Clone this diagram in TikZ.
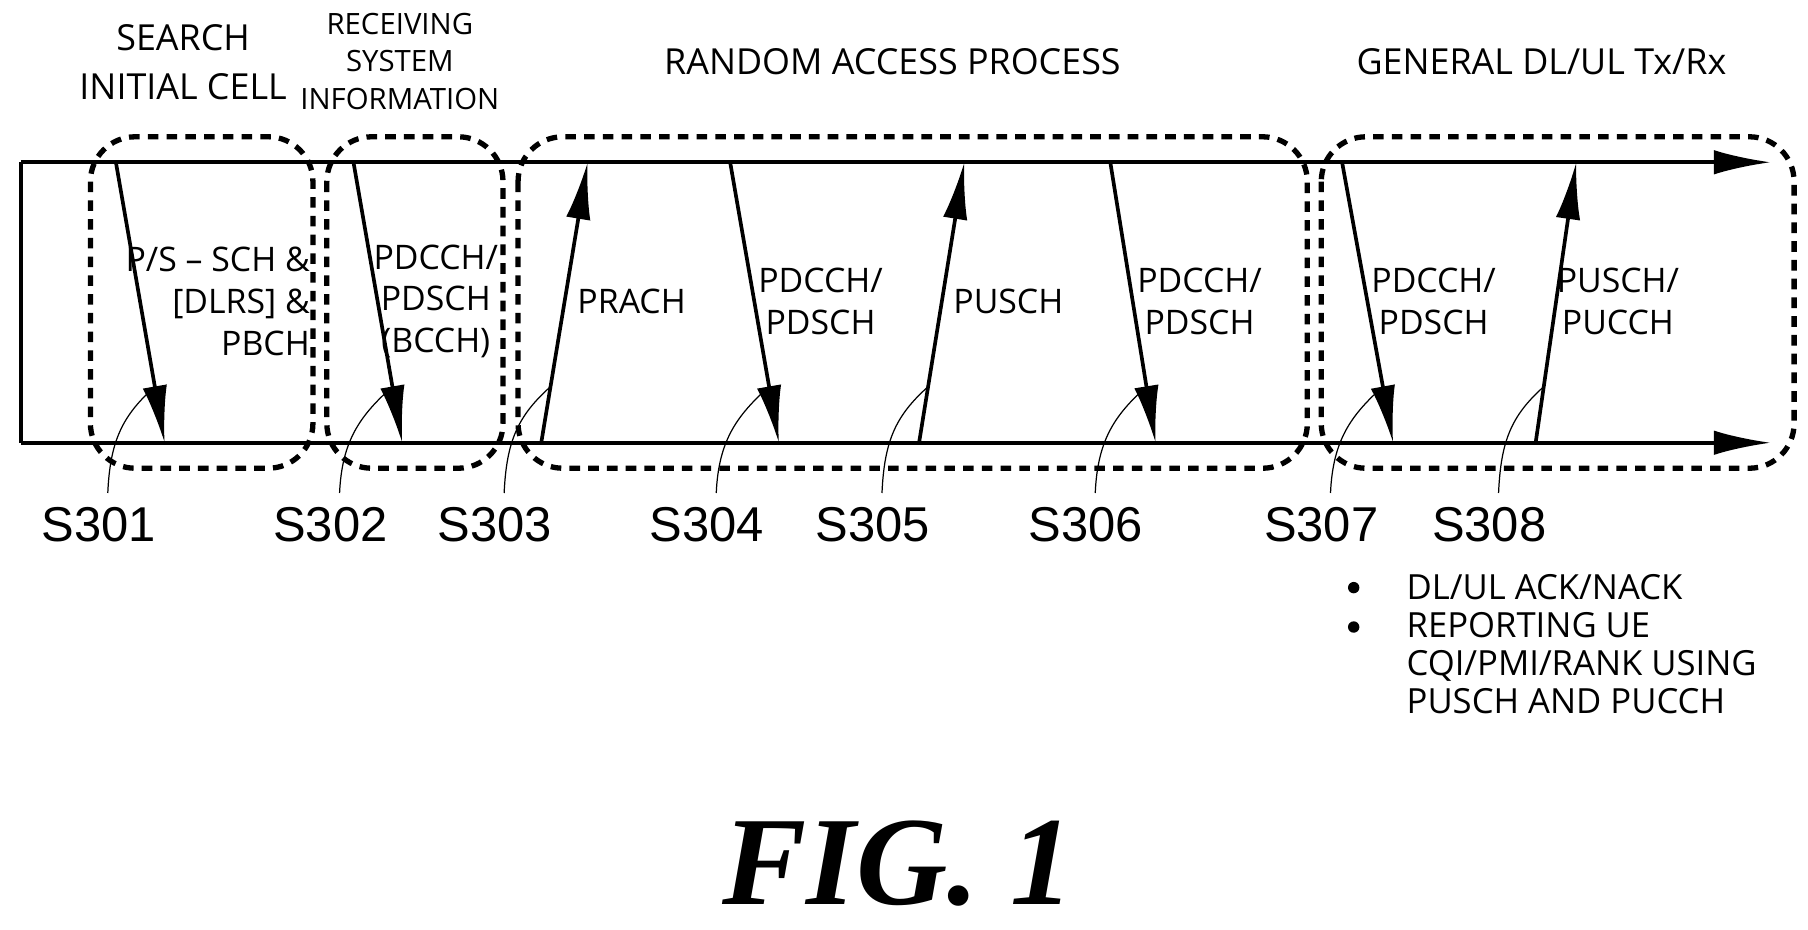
\documentclass[tikz,border=0pt]{standalone}
\usepackage{fontspec}
\setmainfont{Liberation Sans}
\newfontfamily\ttl{Open Sans}
\newfontfamily\figf{Liberation Serif}
\usetikzlibrary{arrows.meta,calc}
\begin{document}
\begin{tikzpicture}[x=0.01cm,y=-0.01cm,
 ln/.style={line width=0.9pt},
 arr/.style={line width=0.9pt,-{Latex[length=14pt,width=6pt]}},
 grp/.style={line width=1.3pt,dash pattern=on 2.6pt off 2pt,rounded corners=11pt},
 lab/.style={font=\ttl\fontsize{8.3}{10.2}\selectfont,align=center,inner sep=0},
 ttlst/.style={align=center,inner sep=0},
 sl/.style={font=\fontsize{12}{14}\selectfont,inner sep=0},
 ld/.style={line width=0.3pt}]
\useasboundingbox (0,0) rectangle (1560,802);
% timeline box
\coordinate (tl) at (18,140); \coordinate (bl) at (18,382);
\coordinate (tr) at (1528,140); \coordinate (br) at (1528,382);
\draw[ln] (tl) -- (bl);
\draw[arr] (tl) -- (tr);
\draw[arr] (bl) -- (br);
% group boxes
\draw[grp] (78,118) rectangle (270,404);
\draw[grp] (282,118) rectangle (434,404);
\draw[grp] (447,118) rectangle (1128,404);
\draw[grp] (1140,118) rectangle (1548,404);
% arrows
\foreach \n/\a/\b/\ya/\yb in {1/100/142/140/382,2/305/347/140/382,3/467/507/382/140,4/630/672/140/382,5/793/832/382/140,6/958/997/140/382,7/1158/1202/140/382,8/1325/1360/382/140}{
  \coordinate (a\n) at (\a,\ya); \coordinate (b\n) at (\b,\yb);
  \draw[arr] (a\n) -- (b\n);
}
% titles
\node[ttlst,font=\ttl\fontsize{8.8}{12}\selectfont] (t1) at (158,54) {SEARCH\\INITIAL CELL};
\node[ttlst,font=\ttl\fontsize{7.2}{9.2}\selectfont] (t2) at (345,53) {RECEIVING\\SYSTEM\\INFORMATION};
\node[ttlst,font=\ttl\fontsize{8.8}{12}\selectfont] (t3) at (770,53) {RANDOM ACCESS PROCESS};
\node[ttlst,font=\ttl\fontsize{8.8}{12}\selectfont] (t4) at (1330,53) {GENERAL DL/UL Tx/Rx};
% arrow labels
\node[lab,align=right,anchor=east] (l1) at (268,260) {P/S – SCH \&\\{}[DLRS] \&\\PBCH};
\node[lab] (l2) at (376,260) {PDCCH/\\PDSCH\\(BCCH)};
\node[lab] (l3) at (545,260) {PRACH};
\node[lab] (l4) at (708,260) {PDCCH/\\PDSCH};
\node[lab] (l5) at (870,260) {PUSCH};
\node[lab] (l6) at (1035,260) {PDCCH/\\PDSCH};
\node[lab] (l7) at (1237,260) {PDCCH/\\PDSCH};
\node[lab] (l8) at (1396,260) {PUSCH/\\PUCCH};
% step labels
\foreach \n/\x in {1/85,2/285,3/427,4/610,5/753,6/937,7/1140,8/1285}{
  \node[sl] (s\n) at (\x,453) {S30\n};
}
% leaders
\foreach \n/\f in {1/0.8,2/0.8,3/0.2,4/0.8,5/0.2,6/0.8,7/0.8,8/0.2}{
  \coordinate (p\n) at ($(a\n)!\f!(b\n)$);
  \coordinate (e\n) at ($(s\n.north)+(8,-12)$);
  \draw[ld] (p\n) .. controls ($(p\n)+(-28,25)$) and ($(e\n)+(2,-45)$) .. (e\n);
}
% bullets
\node[font=\ttl\fontsize{8.5}{9.3}\selectfont,align=left,anchor=north west,inner sep=0] (bl1) at (1213,495)
 {DL/UL ACK/NACK\\REPORTING UE\\CQI/PMI/RANK USING\\PUSCH AND PUCCH};
\fill (1168,507) circle (1.4pt);
\fill (1168,541) circle (1.4pt);
% fig
\node[font=\figf\bfseries\itshape\fontsize{31}{34}\selectfont,inner sep=0] (fig) at (775,745) {FIG. 1};
\end{tikzpicture}
\end{document}
